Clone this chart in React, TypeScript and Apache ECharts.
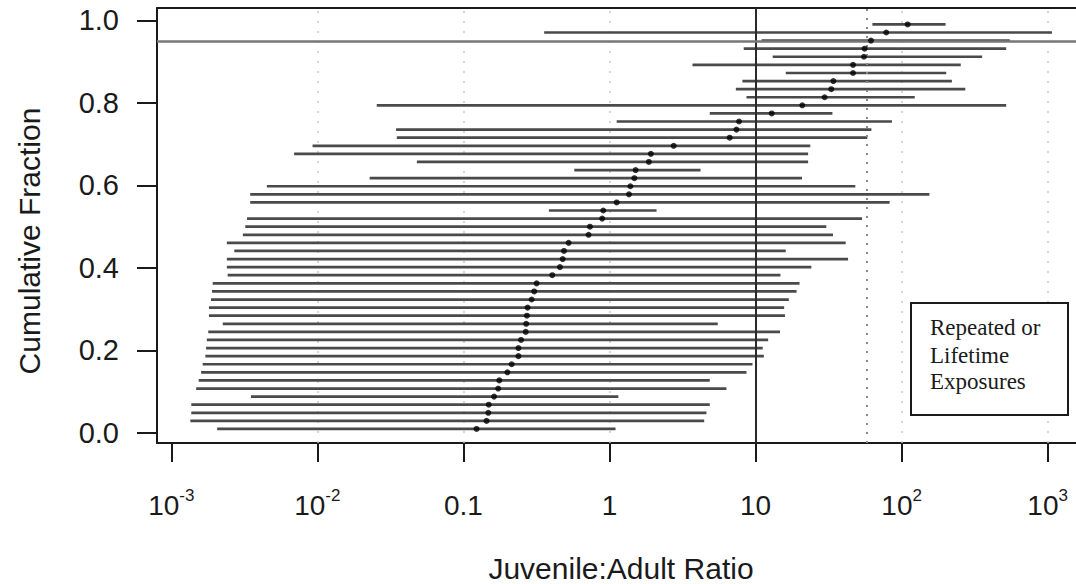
import React, { useEffect, useRef } from 'react';
import * as echarts from 'echarts';

// Cumulative fraction of each study (bottom to top)
const cumulativeFraction = [
  0.0098, 0.0294, 0.049, 0.0686, 0.0882, 0.1078, 0.1275, 0.1471, 0.1667, 0.1863,
  0.2059, 0.2255, 0.2451, 0.2647, 0.2843, 0.3039, 0.3235, 0.3431, 0.3627, 0.3824,
  0.402, 0.4216, 0.4412, 0.4608, 0.4804, 0.5, 0.5196, 0.5392, 0.5588, 0.5784,
  0.598, 0.6176, 0.6373, 0.6569, 0.6765, 0.6961, 0.7157, 0.7353, 0.7549, 0.7745,
  0.7941, 0.8137, 0.8333, 0.8529, 0.8725, 0.8922, 0.9118, 0.9314, 0.951, 0.9706,
  0.9902,
];

// Lower end of each ratio interval
const lowerBound = [
  0.00206, 0.00135, 0.00137, 0.00137, 0.00351, 0.00148, 0.00154, 0.0016, 0.00164, 0.00171,
  0.00173, 0.00175, 0.00179, 0.00225, 0.00181, 0.00181, 0.00187, 0.0019, 0.00192, 0.00243,
  0.0024, 0.0024, 0.0027, 0.0024, 0.00309, 0.00321, 0.0033, 0.385, 0.00347, 0.00347,
  0.00451, 0.0228, 0.574, 0.048, 0.00693, 0.00927, 0.035, 0.0346, 1.12, 4.86,
  0.0255, 8.67, 7.33, 8.13, 16.1, 3.7, 13.1, 8.3, 11.0, 0.357,
  63.1,
];

// Central (median) ratio of each interval
const medianRatio = [
  0.123, 0.144, 0.148, 0.149, 0.162, 0.173, 0.176, 0.2, 0.214, 0.238,
  0.238, 0.248, 0.267, 0.269, 0.272, 0.275, 0.293, 0.305, 0.317, 0.406,
  0.458, 0.478, 0.488, 0.525, 0.719, 0.735, 0.891, 0.906, 1.12, 1.36,
  1.39, 1.48, 1.51, 1.86, 1.92, 2.75, 6.65, 7.4, 7.71, 12.9,
  20.9, 29.7, 33.0, 34.1, 46.5, 46.5, 55.2, 55.8, 61.7, 78.5,
  110,
];

// Upper end of each ratio interval
const upperBound = [
  1.1, 4.45, 4.61, 4.86, 1.15, 6.32, 4.86, 8.67, 9.53, 11.4,
  11.2, 12.2, 14.7, 5.51, 15.9, 15.7, 16.9, 19.1, 20.0, 14.8,
  24.1, 43.0, 16.1, 41.4, 33.9, 30.5, 53.6, 2.1, 82.8, 155,
  48.2, 20.8, 4.2, 22.9, 22.9, 23.7, 58.2, 62.1, 85.9, 33.6,
  520, 123, 273, 221, 202, 254, 356, 520, 550, 1070,
  200,
];

const xTickValues = [0.001, 0.01, 0.1, 1, 10, 100, 1000];
const xTickBase = ['10', '10', '0.1', '1', '10', '10', '10'];
const xTickExponent = ['-3', '-2', '', '', '', '2', '3'];
const yTickValues = [0, 0.2, 0.4, 0.6, 0.8, 1.0];
const decadeGrid = [0.001, 0.01, 0.1, 1, 100, 1000];
const referenceRatio = 10;
const dottedRatio = 58;
const referenceFraction = 0.95;
const boxLines = ['Repeated or', 'Lifetime', 'Exposures'];

const fontSans = '"Liberation Sans", Arial, Helvetica, sans-serif';
const fontSerif = '"Liberation Serif", "Times New Roman", serif';
const ink = '#1a1a1a';

export default function App() {
  const ref = useRef<HTMLDivElement>(null);

  useEffect(() => {
    if (!ref.current) return;
    const chart = echarts.init(ref.current, null, { renderer: 'svg' });

    const intervals = lowerBound.map((lo, i) => [lo, upperBound[i], cumulativeFraction[i]]);
    const medians = medianRatio.map((m, i) => [m, cumulativeFraction[i]]);

    const option: any = {
      animation: false,
      backgroundColor: '#ffffff',
      grid: {
        left: 157,
        right: 0,
        top: 8,
        bottom: 141,
        containLabel: false,
        outerBoundsMode: 'none',
      },
      xAxis: [
        {
          type: 'log',
          logBase: 10,
          min: Math.pow(10, -3.098),
          max: Math.pow(10, 3.194),
          position: 'bottom',
          axisLine: { show: true, onZero: false, lineStyle: { color: ink, width: 2 } },
          axisTick: {
            show: true,
            length: 19,
            customValues: xTickValues,
            lineStyle: { color: ink, width: 2 },
          },
          axisLabel: {
            show: true,
            customValues: xTickValues,
            margin: 44,
            formatter: (v: number) => {
              const idx = xTickValues.findIndex(
                (t) => Math.abs(Math.log10(t) - Math.log10(v)) < 1e-6
              );
              if (idx < 0) return '';
              const exp = xTickExponent[idx];
              return exp ? `{b|${xTickBase[idx]}}{s|${exp}}` : `{b|${xTickBase[idx]}}`;
            },
            rich: {
              b: { fontSize: 28, lineHeight: 36, fontFamily: fontSans, color: ink },
              s: {
                fontSize: 17,
                lineHeight: 17,
                verticalAlign: 'top',
                fontFamily: fontSans,
                color: ink,
              },
            },
          },
          splitLine: { show: false },
          minorTick: { show: false },
        },
        {
          type: 'value',
          position: 'top',
          min: 0,
          max: 1,
          axisLine: { show: true, onZero: false, lineStyle: { color: ink, width: 2 } },
          axisTick: { show: false },
          axisLabel: { show: false },
          splitLine: { show: false },
        },
      ],
      yAxis: {
        type: 'value',
        min: -0.0242,
        max: 1.03,
        axisLine: { show: true, onZero: false, lineStyle: { color: ink, width: 2 } },
        axisTick: {
          show: true,
          length: 20,
          customValues: yTickValues,
          lineStyle: { color: ink, width: 2 },
        },
        axisLabel: {
          show: true,
          customValues: yTickValues,
          margin: 38,
          fontSize: 29,
          fontFamily: fontSans,
          color: ink,
          padding: [4, 0, 0, 0],
          formatter: (v: number) => v.toFixed(1),
        },
        splitLine: { show: false },
      },
      series: [
        {
          type: 'line',
          data: [],
          silent: true,
          markLine: {
            silent: true,
            z: 1,
            symbol: ['none', 'none'],
            label: { show: false },
            lineStyle: { color: '#c8c8c8', width: 1.5, type: [2, 8] },
            data: decadeGrid.map((d) => ({ xAxis: d })),
          },
        },
        {
          type: 'custom',
          z: 2,
          silent: true,
          encode: { x: [0, 1], y: 2 },
          data: intervals,
          renderItem: (params: any, api: any) => {
            const p1 = api.coord([api.value(0), api.value(2)]);
            const p2 = api.coord([api.value(1), api.value(2)]);
            return {
              type: 'line',
              shape: { x1: p1[0], y1: p1[1], x2: p2[0], y2: p2[1] },
              style: { stroke: '#4a4a4a', lineWidth: 2.7 },
            };
          },
        },
        {
          type: 'scatter',
          z: 10,
          silent: true,
          symbol: 'circle',
          symbolSize: 6,
          itemStyle: { color: '#000000' },
          data: medians,
          markLine: {
            silent: true,
            z: 5,
            symbol: ['none', 'none'],
            label: { show: false },
            data: [
              { xAxis: referenceRatio, lineStyle: { color: '#2a2a2a', width: 2, type: 'solid' } },
              { xAxis: dottedRatio, lineStyle: { color: '#8a8a8a', width: 2, type: [2, 7] } },
              { yAxis: referenceFraction, lineStyle: { color: '#777777', width: 2.5, type: 'solid' } },
            ],
          },
        },
      ],
      graphic: [
        {
          type: 'text',
          x: 29,
          y: 241,
          rotation: Math.PI / 2,
          style: {
            text: 'Cumulative Fraction',
            fontSize: 30,
            fontFamily: fontSans,
            fill: ink,
            align: 'center',
            verticalAlign: 'middle',
          },
        },
        {
          type: 'text',
          x: 621,
          y: 568,
          style: {
            text: 'Juvenile:Adult Ratio',
            fontSize: 30,
            lineHeight: 28,
            fontFamily: fontSans,
            fill: ink,
            align: 'center',
            verticalAlign: 'middle',
          },
        },
        {
          type: 'rect',
          shape: { x: 911, y: 303, width: 157, height: 112 },
          style: { fill: '#ffffff', stroke: ink, lineWidth: 2 },
          z: 20,
        },
        ...boxLines.map((line, i) => ({
          type: 'text',
          x: 930,
          y: [327, 355, 381][i],
          z: 21,
          style: {
            text: line,
            fontSize: 23,
            fontFamily: fontSerif,
            fill: ink,
            align: 'left',
            verticalAlign: 'middle',
          },
        })),
      ],
    };

    chart.setOption(option);
    return () => chart.dispose();
  }, []);

  return (
    <div
      ref={ref}
      style={{ position: 'absolute', left: 0, top: 0, width: 1076, height: 584, background: '#fff' }}
    />
  );
}
